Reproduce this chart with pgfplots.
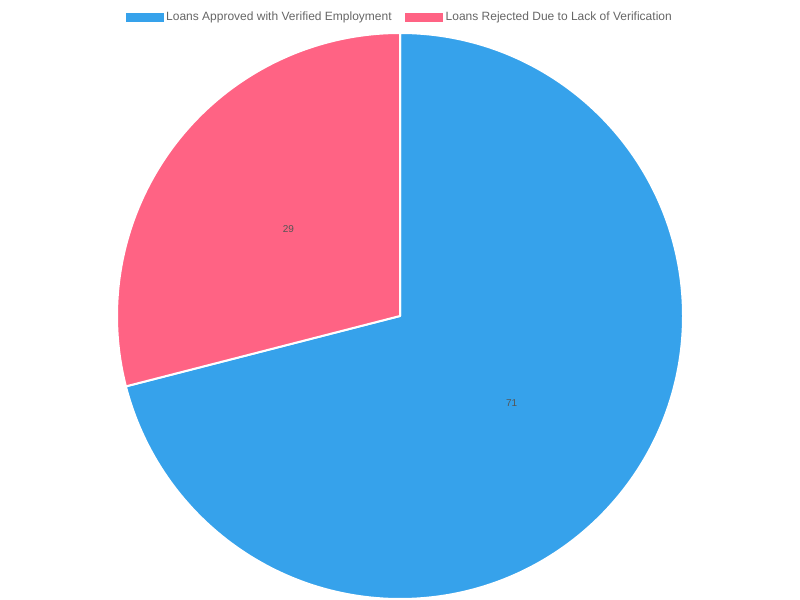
\documentclass[border=0pt]{standalone}
\usepackage{pgfplots}
\pgfplotsset{compat=1.18}
\usepackage{pgfplotstable}
\usepackage{fontspec}
\setmainfont{Liberation Sans}

\definecolor{cBlue}{HTML}{36A2EB}
\definecolor{cPink}{HTML}{FF6384}
\definecolor{legtext}{HTML}{666666}
\definecolor{labtext}{HTML}{555555}

\pgfplotsset{
  box legend/.style={legend image code/.code={\fill[##1, draw=none] (0pt,-3.6pt) rectangle (28.5pt,3.6pt);}},
}

% slice values (percent)
\pgfplotstableread{
label value
Approved 71
Rejected 29
}\piedata

\begin{document}
\begin{tikzpicture}
  \pgfplotstablegetelem{0}{value}\of\piedata \let\valA\pgfplotsretval
  \pgfplotstablegetelem{1}{value}\of\piedata \let\valB\pgfplotsretval
  \pgfmathsetmacro\tot{\valA+\valB}
  \pgfmathsetmacro\endA{90-360*(\valA/\tot)}
  \pgfmathsetmacro\midA{(90+\endA)/2}
  \pgfmathsetmacro\midB{(\endA-270)/2}
  \def\R{212.25pt}
  \begin{axis}[
      scale only axis,
      width=600pt, height=450pt,
      xmin=0, xmax=800, ymin=0, ymax=600,
      hide axis,
      clip=false,
      legend columns=2,
      legend style={
        at={(0.5,1)}, anchor=north, yshift=-5pt,
        draw=none, fill=none,
        font=\fontsize{9}{11}\selectfont, text=legtext,
        /tikz/every even column/.append style={column sep=8pt},
      },
    ]
    \path (axis cs:0,0) rectangle (axis cs:800,600);
    \filldraw[fill=cBlue, draw=white, line width=1.5pt, line join=round]
      (axis cs:400,284) -- ++(90:\R) arc[start angle=90, end angle=\endA, radius=\R] -- cycle;
    \filldraw[fill=cPink, draw=white, line width=1.5pt, line join=round]
      (axis cs:400,284) -- ++(\endA:\R) arc[start angle=\endA, end angle=-270, radius=\R] -- cycle;
    \path (axis cs:400,284) ++(\midA:106pt) node[font=\fontsize{7.5}{9}\selectfont, text=labtext] {\valA};
    \path (axis cs:400,284) ++(\midB:106pt) node[font=\fontsize{7.5}{9}\selectfont, text=labtext] {\valB};
    \addlegendimage{box legend, fill=cBlue}
    \addlegendentry{Loans Approved with Verified Employment}
    \addlegendimage{box legend, fill=cPink}
    \addlegendentry{Loans Rejected Due to Lack of Verification}
  \end{axis}
\end{tikzpicture}
\end{document}
